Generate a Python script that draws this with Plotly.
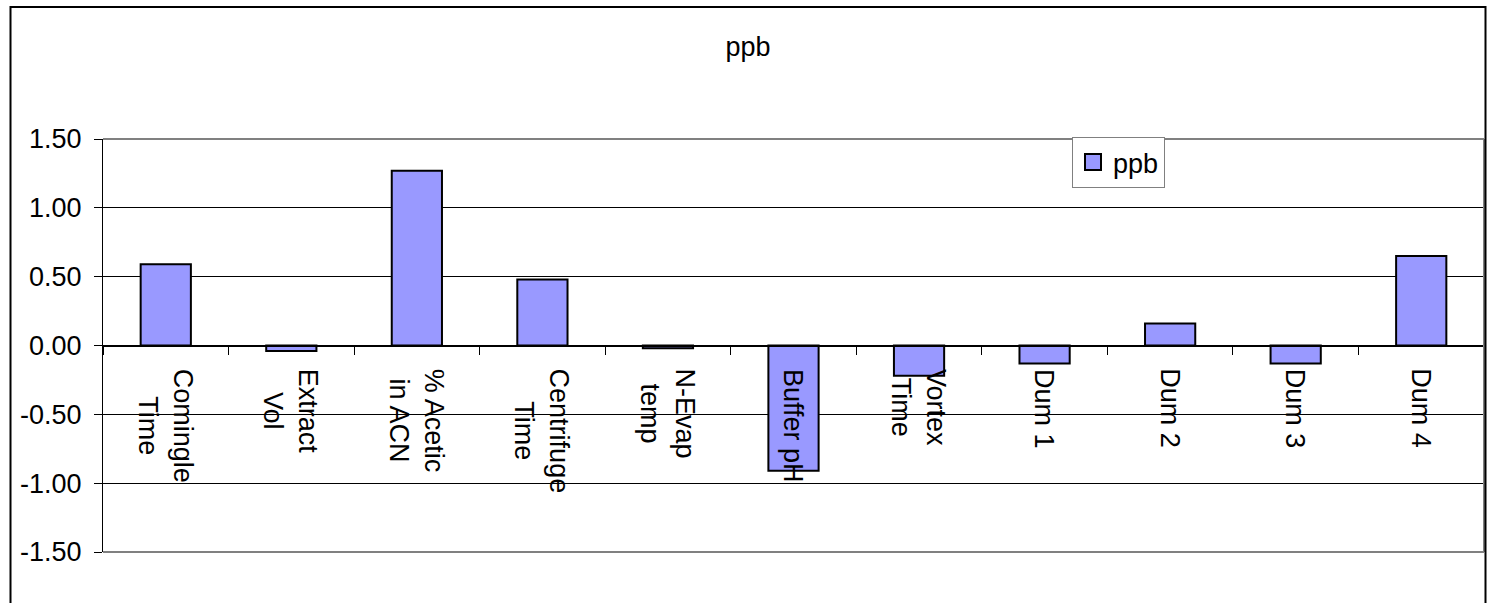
import plotly.graph_objects as go

categories = ["Comingle<br>Time", "Extract<br>Vol", "% Acetic<br>in ACN", "Centrifuge<br>Time",
              "N-Evap<br>temp", "Buffer pH", "Vortex<br>Time", "Dum 1", "Dum 2", "Dum 3", "Dum 4"]
cat_keys = ["Comingle Time", "Extract Vol", "% Acetic in ACN", "Centrifuge Time",
            "N-Evap temp", "Buffer pH", "Vortex Time", "Dum 1", "Dum 2", "Dum 3", "Dum 4"]
ppb = [0.59, -0.04, 1.27, 0.48, -0.02, -0.91, -0.22, -0.13, 0.16, -0.13, 0.65]
y_ticks = [-1.5, -1.0, -0.5, 0.0, 0.5, 1.0, 1.5]
y_ticktext = ["-1.50", "-1.00", "-0.50", "0.00", "0.50", "1.00", "1.50"]
series_name = "ppb"
chart_title = "ppb"

FONT = "Liberation Sans, Arial, sans-serif"
FS = 27
BAR_COLOR = "#9999FF"

W, H = 1491, 603
ML, MR, MT, MB = 103, 7, 139, 51
PW = W - ML - MR
PH = H - MT - MB

fig = go.Figure()
fig.add_trace(go.Bar(
    x=cat_keys, y=ppb, name=series_name, showlegend=False,
    marker=dict(color=BAR_COLOR, line=dict(color="black", width=2)),
    width=0.4,
))
# legend entry
fig.add_trace(go.Scatter(
    x=[None], y=[None], mode="markers", name=series_name, showlegend=True,
    marker=dict(symbol="square", size=16, color=BAR_COLOR, line=dict(color="black", width=2)),
))

# category labels (rotated, beneath the zero line)
for key, lab in zip(cat_keys, categories):
    fig.add_annotation(
        x=key, y=0, xref="x", yref="y", text=lab, showarrow=False,
        textangle=90, xanchor="center", yanchor="top", yshift=-21, align="center",
        font=dict(family=FONT, size=FS, color="black"),
    )

# plot-area border (grey) top, right, bottom
for (x0, y0, x1, y1) in [(0, 1, 1, 1), (0, 0, 1, 0), (1, 0, 1, 1)]:
    fig.add_shape(type="line", xref="paper", yref="paper", x0=x0, y0=y0, x1=x1, y1=y1,
                  line=dict(color="#808080", width=2), layer="above")

# outer chart border
fig.add_shape(type="rect", xref="paper", yref="paper",
              x0=(10.5 - ML) / PW, x1=(1485.5 - ML) / PW,
              y0=(H - MB - 640) / PH, y1=(H - MB - 7) / PH,
              line=dict(color="black", width=2), fillcolor="rgba(0,0,0,0)", layer="above")

fig.update_layout(
    width=W, height=H,
    margin=dict(l=ML, r=MR, t=MT, b=MB, pad=0),
    paper_bgcolor="white", plot_bgcolor="white",
    font=dict(family=FONT, size=FS, color="black"),
    title=dict(text=chart_title, x=748 / W, xanchor="center", y=1 - 47 / H, yanchor="middle",
               font=dict(family=FONT, size=FS, color="black")),
    showlegend=True,
    legend=dict(x=(1072 - ML) / PW, xanchor="left", y=(H - MB - 137) / PH, yanchor="top",
                bgcolor="white", bordercolor="#808080", borderwidth=1,
                font=dict(family=FONT, size=FS, color="black"), itemsizing="trace"),
    xaxis=dict(type="category", range=[-0.5, 10.5], anchor="free", position=0.5,
               showline=True, linecolor="black", linewidth=1,
               ticks="outside", tickson="boundaries", ticklen=8, tickcolor="black", tickwidth=1,
               showticklabels=False, showgrid=False, zeroline=False, fixedrange=True),
    yaxis=dict(range=[-1.5, 1.5], tickvals=y_ticks, ticktext=y_ticktext,
               showline=True, linecolor="black", linewidth=1,
               ticks="outside", ticklen=8, tickcolor="black", tickwidth=1,
               showgrid=True, gridcolor="black", gridwidth=1,
               zeroline=True, zerolinecolor="black", zerolinewidth=1,
               ticklabelstandoff=7,
               tickfont=dict(family=FONT, size=FS, color="black")),
)

fig.write_html("out.html")
